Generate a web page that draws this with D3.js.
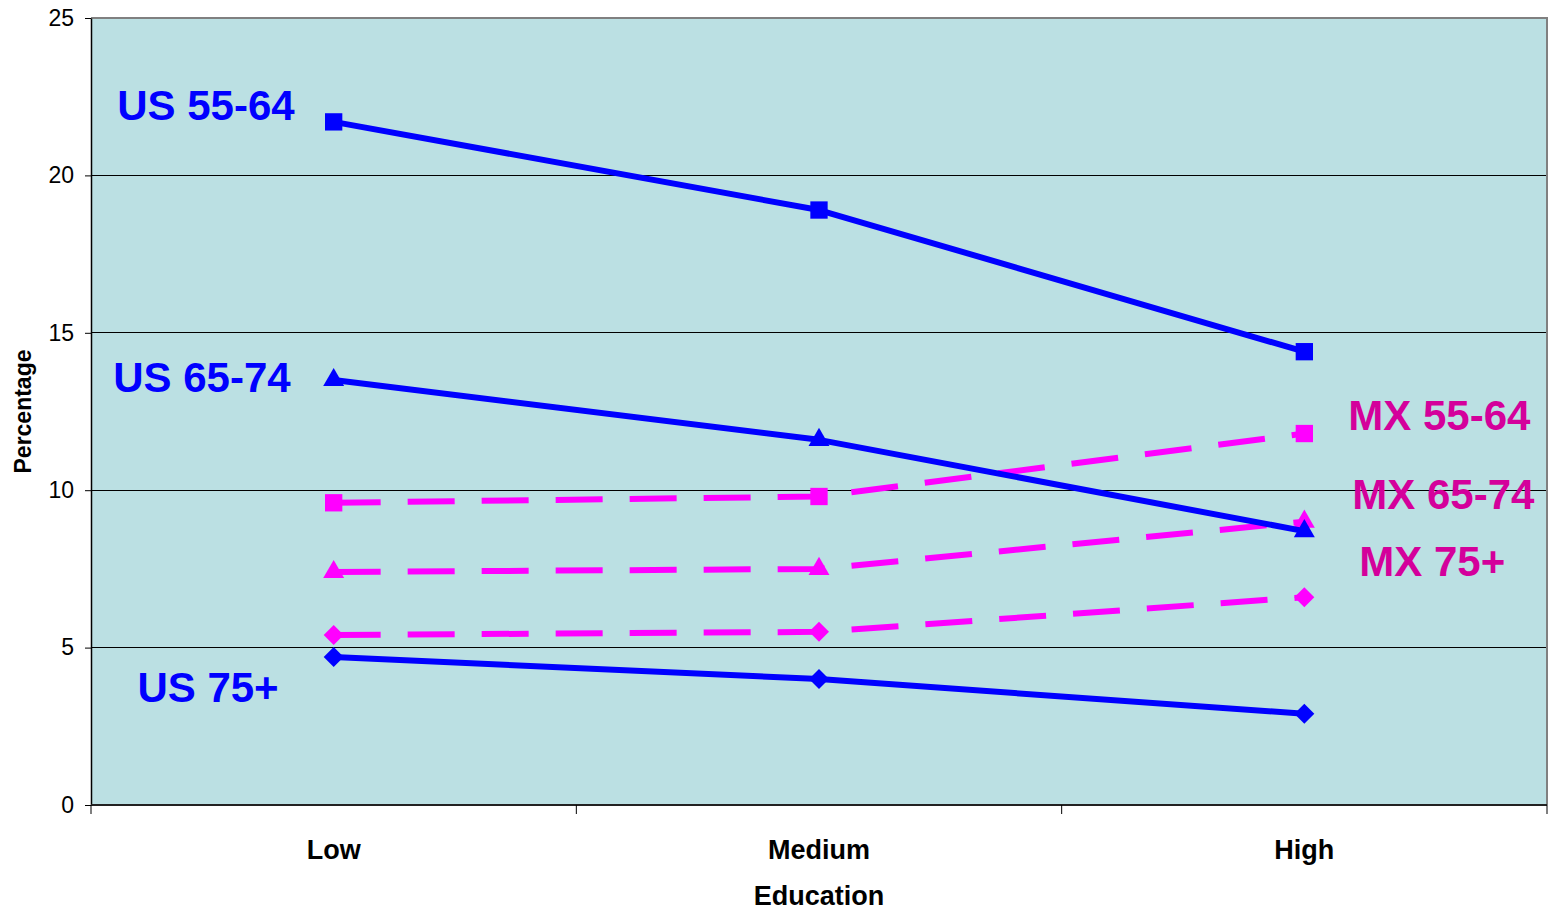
<!DOCTYPE html>
<html>
<head>
<meta charset="utf-8">
<script src="https://cdn.jsdelivr.net/npm/d3@7"></script>
<style>
  html, body { margin: 0; padding: 0; background: #ffffff; }
  svg { display: block; font-family: Arial, "Liberation Sans", Helvetica, sans-serif; }
</style>
</head>
<body>
<svg id="chart" width="1552" height="911"></svg>
<script>
// Education levels along the x axis
const categories = ["Low", "Medium", "High"];

// Percentages by education level, one array per country / age group
const us5564 = [21.7, 18.9, 14.4];
const us6574 = [13.5, 11.6, 8.7];
const us75 = [4.7, 4.0, 2.9];
const mx5564 = [9.6, 9.8, 11.8];
const mx6574 = [7.4, 7.5, 9.0];
const mx75 = [5.4, 5.5, 6.6];

const yTicks = [0, 5, 10, 15, 20, 25];

const seriesNames = ["US 55-64", "US 65-74", "US 75+", "MX 55-64", "MX 65-74", "MX 75+"];
const seriesValues = [us5564, us6574, us75, mx5564, mx6574, mx75];

const margin = { left: 91, right: 5, top: 18, bottom: 106 };
const W = 1552, H = 911;
const plotW = W - margin.left - margin.right;
const plotH = H - margin.top - margin.bottom;

const svg = d3.select("#chart");
const g = svg.append("g").attr("transform", `translate(${margin.left},${margin.top})`);

const x = d3.scaleBand().domain(categories).range([0, plotW]).padding(0);
const y = d3.scaleLinear().domain([0, 25]).range([plotH, 0]);
const cx = c => x(c) + x.bandwidth() / 2;

// Plot area background
g.append("rect")
  .attr("x", 0).attr("y", 0).attr("width", plotW).attr("height", plotH)
  .attr("fill", "#BBE0E3");

// Horizontal gridlines
g.append("g")
  .selectAll("line")
  .data(yTicks.filter(t => t > 0 && t < 25))
  .join("line")
  .attr("x1", 0).attr("x2", plotW)
  .attr("y1", d => y(d)).attr("y2", d => y(d))
  .attr("stroke", "#000").attr("stroke-width", 1)
  .attr("shape-rendering", "crispEdges");

// Top and right frame in grey
g.append("path")
  .attr("d", `M0,${y(25)}H${plotW}V${plotH}`)
  .attr("fill", "none").attr("stroke", "#808080").attr("stroke-width", 2);

// Y axis
const yAxis = g.append("g").call(
  d3.axisLeft(y).tickValues(yTicks).tickSize(6).tickSizeOuter(0).tickPadding(11)
);
yAxis.select(".domain").attr("stroke", "#000").attr("stroke-width", 1.5);
yAxis.selectAll(".tick line").attr("stroke", "#000");
yAxis.selectAll(".tick text")
  .attr("font-size", 23).attr("fill", "#000")
  .attr("font-family", "Arial, 'Liberation Sans', sans-serif");

// X axis: labels at band centres, tick marks on band boundaries
const xAxis = g.append("g").attr("transform", `translate(0,${plotH})`);
xAxis.append("line")
  .attr("x1", 0).attr("x2", plotW).attr("y1", 0).attr("y2", 0)
  .attr("stroke", "#222").attr("stroke-width", 2);
const boundaries = categories.map(c => x(c)).concat([x(categories[categories.length - 1]) + x.bandwidth()]);
xAxis.selectAll("line.tk")
  .data(boundaries)
  .join("line")
  .attr("class", "tk")
  .attr("x1", d => d).attr("x2", d => d)
  .attr("y1", 0).attr("y2", 9)
  .attr("stroke", "#000").attr("stroke-width", 1);
xAxis.selectAll("text.cat")
  .data(categories)
  .join("text")
  .attr("class", "cat")
  .attr("x", d => cx(d)).attr("y", 54)
  .attr("text-anchor", "middle")
  .attr("font-size", 27).attr("font-weight", "bold").attr("fill", "#000")
  .text(d => d);

// Axis titles
svg.append("text")
  .attr("x", margin.left + plotW / 2).attr("y", H - 6)
  .attr("text-anchor", "middle")
  .attr("font-size", 27).attr("font-weight", "bold").attr("fill", "#000")
  .text("Education");
svg.append("text")
  .attr("transform", `translate(31,${margin.top + y(12.5)}) rotate(-90)`)
  .attr("text-anchor", "middle")
  .attr("font-size", 23).attr("font-weight", "bold").attr("fill", "#000")
  .text("Percentage");

// Series styling; "diamond" is a square turned 45 degrees
const BLUE = "#0000FF", PINK = "#FF00FF";
const styles = [
  { color: BLUE, dash: null, marker: "square" },
  { color: BLUE, dash: null, marker: "triangle" },
  { color: BLUE, dash: null, marker: "diamond" },
  { color: PINK, dash: "47,27", marker: "square" },
  { color: PINK, dash: "47,27", marker: "triangle" },
  { color: PINK, dash: "47,27", marker: "diamond" }
];
const markerPath = {
  square: d3.symbol().type(d3.symbolSquare).size(300)(),
  triangle: d3.symbol().type(d3.symbolTriangle).size(190)(),
  diamond: d3.symbol().type(d3.symbolSquare).size(200)()
};
const markerRotate = { square: 0, triangle: 0, diamond: 45 };

const line = d3.line().x((d, i) => cx(categories[i])).y(d => y(d));

// Pink (dashed) series first so the blue lines sit on top
const order = [3, 4, 5, 0, 1, 2];
order.forEach(k => {
  const vals = seriesValues[k];
  const st = styles[k];
  const sg = g.append("g").attr("class", "series");
  sg.append("path")
    .datum(vals)
    .attr("d", line)
    .attr("fill", "none")
    .attr("stroke", st.color)
    .attr("stroke-width", 6)
    .attr("stroke-dasharray", st.dash)
    .attr("stroke-linejoin", "round");
  sg.selectAll("path.mk")
    .data(vals)
    .join("path")
    .attr("class", "mk")
    .attr("transform", (d, i) =>
      `translate(${cx(categories[i])},${y(d)}) rotate(${markerRotate[st.marker]})`)
    .attr("d", markerPath[st.marker])
    .attr("fill", st.color);
});

// Series labels, positioned relative to the first / last point of each series
const labelOffsets = [
  { at: 0, dx: -39, dy: -2, anchor: "end" },
  { at: 0, dx: -43, dy: 12, anchor: "end" },
  { at: 0, dx: -55, dy: 45, anchor: "end" },
  { at: 2, dx: 44, dy: -4, anchor: "start" },
  { at: 2, dx: 48, dy: -13, anchor: "start" },
  { at: 2, dx: 55, dy: -21, anchor: "start" }
];
const labelColors = [BLUE, BLUE, BLUE, "#D4009B", "#D4009B", "#D4009B"];
seriesNames.forEach((name, k) => {
  const o = labelOffsets[k];
  const v = seriesValues[k][o.at];
  g.append("text")
    .attr("x", cx(categories[o.at]) + o.dx)
    .attr("y", y(v) + o.dy)
    .attr("text-anchor", o.anchor)
    .attr("font-size", 42).attr("font-weight", "bold")
    .attr("fill", labelColors[k])
    .text(name);
});
</script>
</body>
</html>
